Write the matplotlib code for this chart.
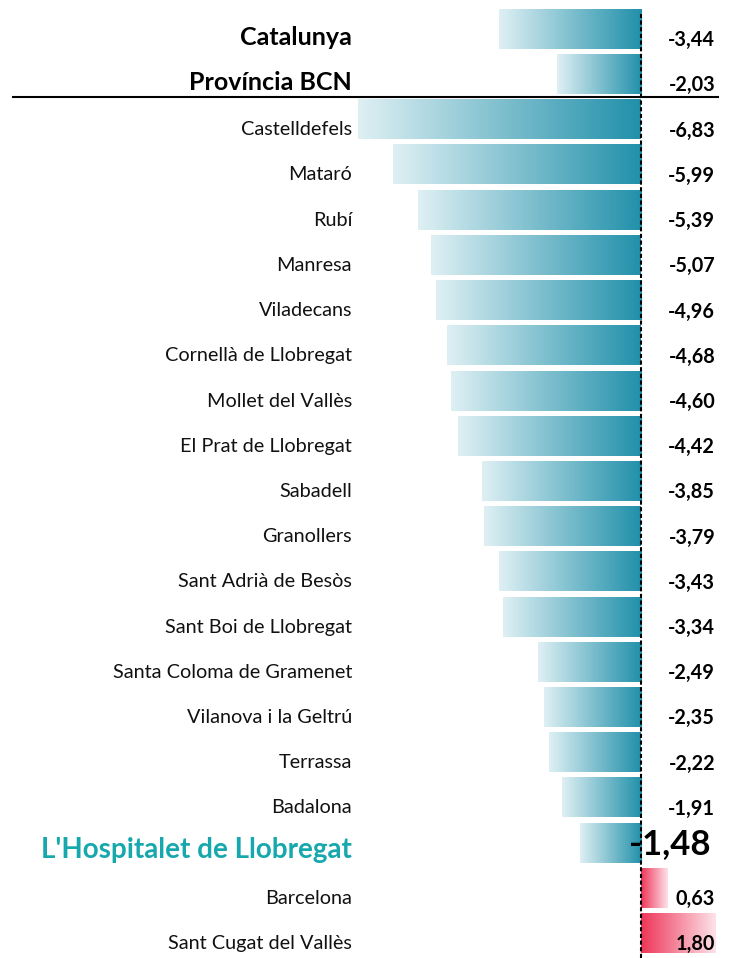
import matplotlib.pyplot as plt
import numpy as np
from matplotlib.colors import LinearSegmentedColormap

# dades
labels = ["Catalunya", "Província BCN", "Castelldefels", "Mataró", "Rubí", "Manresa",
          "Viladecans", "Cornellà de Llobregat", "Mollet del Vallès", "El Prat de Llobregat",
          "Sabadell", "Granollers", "Sant Adrià de Besòs", "Sant Boi de Llobregat",
          "Santa Coloma de Gramenet", "Vilanova i la Geltrú", "Terrassa", "Badalona",
          "L'Hospitalet de Llobregat", "Barcelona", "Sant Cugat del Vallès"]
values = [-3.44, -2.03, -6.83, -5.99, -5.39, -5.07, -4.96, -4.68, -4.60, -4.42,
          -3.85, -3.79, -3.43, -3.34, -2.49, -2.35, -2.22, -1.91, -1.48, 0.63, 1.80]
value_labels = ["-3,44", "-2,03", "-6,83", "-5,99", "-5,39", "-5,07", "-4,96", "-4,68",
                "-4,60", "-4,42", "-3,85", "-3,79", "-3,43", "-3,34", "-2,49", "-2,35",
                "-2,22", "-1,91", "-1,48", "0,63", "1,80"]

plt.rcParams['font.family'] = ['Lato', 'DejaVu Sans']

fig = plt.figure(figsize=(7.33, 9.58), dpi=100)
ax = fig.add_axes([0, 0, 1, 1])
ax.set_xlim(-15.48, 2.22)
ax.set_ylim(20.55, -0.64)
ax.axis('off')

teal = LinearSegmentedColormap.from_list('teal', ['#dff0f4', '#2190aa'])
red = LinearSegmentedColormap.from_list('red', ['#ee3558', '#fde3e9'])
grad = np.linspace(0, 1, 256).reshape(1, -1)

h = 0.88
for i, v in enumerate(values):
    cmap = teal if v < 0 else red
    ax.imshow(grad, cmap=cmap, aspect='auto', interpolation='bicubic',
              extent=[min(v, 0), max(v, 0), i + h / 2, i - h / 2], zorder=1)

# etiquetes
for i, (lab, vl) in enumerate(zip(labels, value_labels)):
    if i < 2:
        ax.text(-6.98, i + 0.19, lab, ha='right', va='center', fontsize=18,
                fontweight='bold', color='black')
    elif lab.startswith("L'Hospitalet"):
        ax.text(-6.98, i + 0.17, lab, ha='right', va='center', fontsize=20,
                fontweight='bold', color='#17a8ad')
    else:
        ax.text(-6.98, i + 0.23, lab, ha='right', va='center', fontsize=14.3,
                color='#111111')
    if lab.startswith("L'Hospitalet"):
        ax.text(1.68, i + 0.02, vl, ha='right', va='center', fontsize=25,
                fontweight='bold', color='black', zorder=3)
    else:
        ax.text(1.79, i + 0.25, vl, ha='right', va='center', fontsize=14.3,
                fontweight='bold', color='black', zorder=3)

ax.plot([-15.17, 1.86], [1.5, 1.5], color='black', lw=1.5, zorder=2)
ax.axvline(0, ymin=0, ymax=0.985, color='black', lw=1.5, ls=(0, (2, 1.2)), zorder=2)

plt.savefig('out.png', dpi=100)
